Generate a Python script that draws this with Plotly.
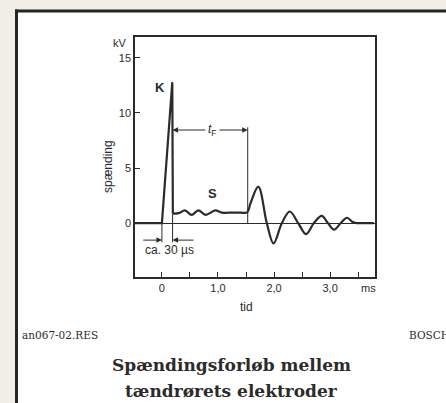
import plotly.graph_objects as go

# ---- data ----
spike_t = [-0.48, 0.0, 0.185, 0.195]
spike_v = [0.0, 0.0, 12.8, 0.85]

wave_t = [0.195, 0.30, 0.41, 0.53, 0.65, 0.78, 0.95, 1.07, 1.25, 1.40, 1.52,
          1.58, 1.72, 1.87, 1.99, 2.14, 2.28, 2.43, 2.57, 2.71, 2.85, 2.96,
          3.07, 3.19, 3.30, 3.40, 3.47, 3.60, 3.78]
wave_v = [0.85, 0.9, 1.15, 0.75, 1.15, 0.75, 1.15, 0.95, 0.95, 0.95, 0.97,
          1.8, 3.3, 0.0, -1.85, 0.0, 1.05, 0.0, -1.0, 0.0, 0.65, 0.0,
          -0.6, 0.0, 0.48, 0.1, 0.0, 0.0, 0.0]

x_tickvals = [0, 0.5, 1.0, 1.5, 2.0, 2.5, 3.0, 3.5]
x_ticktext = ["0", "", "1,0", "", "2,0", "", "3,0", ""]
y_tickvals = [0, 5, 10, 15]
y_ticktext = ["0", "5", "10", "15"]

t_start, t_spark_end = 0.0, 0.19      # "ca. 30 µs" markers
tf_end = 1.53                          # end of spark duration t_F
tf_level = 8.45
tf_top = 8.7
marker_bottom = -1.75

INK = "#2b2b2b"
SANS = "Liberation Sans"
SERIF = "DejaVu Serif"

fig = go.Figure()
fig.add_trace(go.Scatter(x=spike_t, y=spike_v, mode="lines",
                         line=dict(color=INK, width=2.2), hoverinfo="skip"))
fig.add_trace(go.Scatter(x=wave_t, y=wave_v, mode="lines",
                         line=dict(color=INK, width=2.2, shape="spline", smoothing=1.0),
                         hoverinfo="skip"))
# guide lines
fig.add_trace(go.Scatter(x=[t_start, t_start], y=[0, marker_bottom], mode="lines",
                         line=dict(color=INK, width=1), hoverinfo="skip"))
fig.add_trace(go.Scatter(x=[t_spark_end, t_spark_end], y=[0.85, marker_bottom], mode="lines",
                         line=dict(color=INK, width=1), hoverinfo="skip"))
fig.add_trace(go.Scatter(x=[tf_end, tf_end], y=[0, tf_top], mode="lines",
                         line=dict(color=INK, width=1), hoverinfo="skip"))

W, H = 446, 403
L, R, T, B = 135, 71, 37, 126
PW, PH = W - L - R, H - T - B

def px(xp):
    return (xp - L) / PW

def py(yp):
    return (H - B - yp) / PH

ann = []
def arrow(xh, xt, y):
    ann.append(dict(x=xh, y=y, ax=xt, ay=y, xref="x", yref="y", axref="x", ayref="y",
                    text="", showarrow=True, arrowhead=2, arrowsize=1.1,
                    arrowwidth=1, arrowcolor=INK))

arrow(t_spark_end, 0.80, tf_level)
arrow(tf_end, 1.00, tf_level)
arrow(t_start, -0.36, -1.55)
arrow(t_spark_end, 0.59, -1.55)

def txt(x, y, s, size=11, xref="x", yref="y", family=SANS, xanchor="center",
        yanchor="middle", angle=0):
    ann.append(dict(x=x, y=y, xref=xref, yref=yref, text=s, showarrow=False,
                    font=dict(family=family, size=size, color=INK),
                    xanchor=xanchor, yanchor=yanchor, textangle=angle))

txt(-0.04, 12.3, "<b>K</b>", size=13)
txt(0.91, 2.7, "<b>S</b>", size=13)
txt(0.90, tf_level, "<i>t</i><sub>F</sub>", size=12)
txt(0.13, -2.45, "ca. 30 µs", size=12)
txt(3.68, py(288), "ms", size=11, yref="paper")
txt(px(246), py(307), "tid", size=12, xref="paper", yref="paper")
txt(px(129), py(43), "kV", size=11, xref="paper", yref="paper", xanchor="right")
txt(px(108), py(167), "spænding", size=12, xref="paper", yref="paper", angle=-90)
txt(px(20), py(335), "an067-02.RES", size=10.5, xref="paper", yref="paper",
    family=SERIF, xanchor="left")
txt(px(407), py(335), "BOSCH", size=10.5, xref="paper", yref="paper",
    family=SERIF, xanchor="left")
txt(px(231), py(365), "<b>Spændingsforløb mellem</b>", size=17, xref="paper",
    yref="paper", family=SERIF)
txt(px(231), py(391), "<b>tændrørets elektroder</b>", size=17, xref="paper",
    yref="paper", family=SERIF)

shapes = [
    dict(type="rect", xref="paper", yref="paper", x0=px(16.5), x1=px(460),
         y0=py(420), y1=py(11), fillcolor="white", line=dict(width=0), layer="below"),
    dict(type="line", xref="paper", yref="paper", x0=px(16.5), x1=px(16.5),
         y0=py(420), y1=py(9.5), line=dict(color="#262626", width=3)),
    dict(type="line", xref="paper", yref="paper", x0=px(15), x1=px(460),
         y0=py(11), y1=py(11), line=dict(color="#262626", width=3)),
]

fig.update_layout(
    width=W, height=H, margin=dict(l=L, r=R, t=T, b=B),
    paper_bgcolor="#f1eee7", plot_bgcolor="white",
    showlegend=False, annotations=ann, shapes=shapes,
    font=dict(family=SANS, size=11, color=INK),
)
fig.update_xaxes(range=[-0.48, 3.8], tickvals=x_tickvals, ticktext=x_ticktext,
                 ticks="inside", ticklen=5, tickcolor=INK, tickwidth=1,
                 showline=True, linecolor=INK, linewidth=1.5, mirror=True,
                 showgrid=False, zeroline=False,
                 tickfont=dict(family=SANS, size=11, color=INK))
fig.update_yaxes(range=[-4.9, 16.9], tickvals=y_tickvals, ticktext=y_ticktext,
                 ticks="inside", ticklen=5, tickcolor=INK, tickwidth=1,
                 showline=True, linecolor=INK, linewidth=1.5, mirror=True,
                 showgrid=False, zeroline=True, zerolinecolor=INK, zerolinewidth=1,
                 tickfont=dict(family=SANS, size=11, color=INK))

fig.write_html("out.html", config={"displayModeBar": False},
               post_script="document.body.style.margin='0';"
                           "document.body.style.overflow='hidden';")
